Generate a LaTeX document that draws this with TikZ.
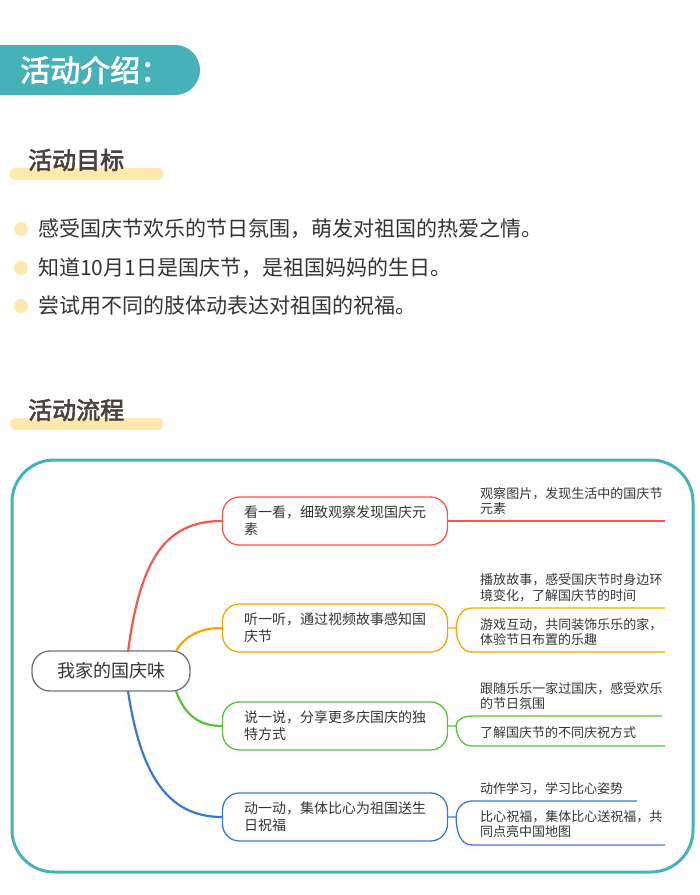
\documentclass[tikz,border=0pt]{standalone}
\usepackage{fontspec}
\setmainfont{Noto Sans CJK SC}
\newfontfamily\hb[FakeBold=2.5]{Noto Sans CJK SC}
\XeTeXlinebreaklocale "zh"
\XeTeXlinebreakskip=0pt plus 1pt
\usetikzlibrary{calc}
\begin{document}
\begin{tikzpicture}[x=1pt,y=-1pt,
  every node/.style={inner sep=0pt},
  hbar/.style={fill=barY,rounded corners=5pt},
  dot/.style={circle,fill=barY,minimum size=14pt},
  btxt/.style={anchor=west,font=\fontsize{21}{24}\selectfont,text=txt},
  sub/.style={anchor=west,font=\hb\fontsize{24}{28}\selectfont,text=dark},
  branch/.style={draw=#1,line width=1.3pt,rounded corners=17pt,minimum width=225pt,minimum height=48pt,
     align=left,text width=182pt,inner xsep=21.5pt,font=\fontsize{14}{17}\selectfont,text=txt},
  leaf/.style={anchor=south west,align=left,text width=183pt,font=\fontsize{13}{15.5}\selectfont,text=txt,inner ysep=3pt},
  conn/.style={draw=#1,line width=2.2pt},
  lline/.style={draw=#1,line width=1.3pt}]
\definecolor{teal}{HTML}{45B1B8}
\definecolor{barY}{HTML}{FDE8AE}
\definecolor{dark}{HTML}{4A4040}
\definecolor{txt}{HTML}{333333}
\definecolor{cR}{HTML}{F5564E}
\definecolor{cO}{HTML}{F9A602}
\definecolor{cG}{HTML}{5BBF3A}
\definecolor{cB}{HTML}{3A78D0}
\definecolor{cC}{HTML}{6B7280}
\useasboundingbox (0,0) rectangle (700,895);
% header
\begin{scope}
\clip (0,0) rectangle (700,895);
\fill[teal,rounded corners=25pt] (-40,45) rectangle (200,95);
\end{scope}
\node[anchor=west,text=white,font=\hb\fontsize{30}{34}\selectfont] (hdr) at (20,70) {活动介绍：};
% section 1
\fill[hbar] (10,168) rectangle (163,180);
\node[sub] (s1) at (28,160) {活动目标};
\node[dot] (d1) at (21,229) {}; \node[btxt] (b1) at (38,229) {感受国庆节欢乐的节日氛围，萌发对祖国的热爱之情。};
\node[dot] (d2) at (21,268) {}; \node[btxt] (b2) at (38,268) {知道10月1日是国庆节，是祖国妈妈的生日。};
\node[dot] (d3) at (21,306) {}; \node[btxt] (b3) at (38,306) {尝试用不同的肢体动表达对祖国的祝福。};
% section 2
\fill[hbar] (10,418) rectangle (163,430);
\node[sub] (s2) at (28,410) {活动流程};
% frame
\draw[teal,line width=3pt,rounded corners=42pt] (12,460) rectangle (693,872);
% center
\node[draw=cC,line width=1.3pt,rounded corners=18pt,minimum width=158pt,minimum height=40pt,font=\fontsize{18}{20}\selectfont,text=txt] (c) at (111,671) {我家的国庆味};
% branches
\node[branch=cR] (n1) at (335,521) {看一看，细致观察发现国庆元素};
\node[branch=cO] (n2) at (335,628) {听一听，通过视频故事感知国庆节};
\node[branch=cG] (n3) at (335,726) {说一说，分享更多庆国庆的独特方式};
\node[branch=cB] (n4) at (335,817) {动一动，集体比心为祖国送生日祝福};
\coordinate (r1) at (128,652); \coordinate (r2) at (176,651);
\coordinate (r3) at (176,691); \coordinate (r4) at (128,691);
\draw[conn=cR] (r1) .. controls (140,560) and (165,521) .. (n1.west);
\draw[conn=cO] (r2) .. controls (185,636) and (200,628) .. (n2.west);
\draw[conn=cG] (r3) .. controls (185,716) and (200,726) .. (n3.west);
\draw[conn=cB] (r4) .. controls (140,770) and (165,817) .. (n4.west);
% leaves
\coordinate (e1) at (665,521);
\draw[lline=cR] (n1.east) -- (e1);
\node[leaf] (l1) at (480,518) {观察图片，发现生活中的国庆节元素};
% two-leaf brackets
\foreach \n/\c/\ya/\yb/\ea in {n2/cO/608/652/665, n3/cG/716/746/662, n4/cB/801/845/637}{
  \coordinate (j) at ($(\n.east)+(8,0)$);
  \draw[lline=\c] (\n.east) -- (j) (j) to[out=90,in=180] (472,\ya) -- (\ea,\ya)
     (j) to[out=-90,in=180] (472,\yb) -- (665,\yb);
}
\node[leaf] (l2a) at (480,605) {播放故事，感受国庆节时身边环境变化，了解国庆节的时间};
\node[leaf] (l2b) at (480,649) {游戏互动，共同装饰乐乐的家，体验节日布置的乐趣};
\node[leaf] (l3a) at (480,713) {跟随乐乐一家过国庆，感受欢乐的节日氛围};
\node[leaf] (l3b) at (480,742) {了解国庆节的不同庆祝方式};
\node[leaf] (l4a) at (480,798) {动作学习，学习比心姿势};
\node[leaf] (l4b) at (480,841) {比心祝福，集体比心送祝福，共同点亮中国地图};
\end{tikzpicture}
\end{document}
